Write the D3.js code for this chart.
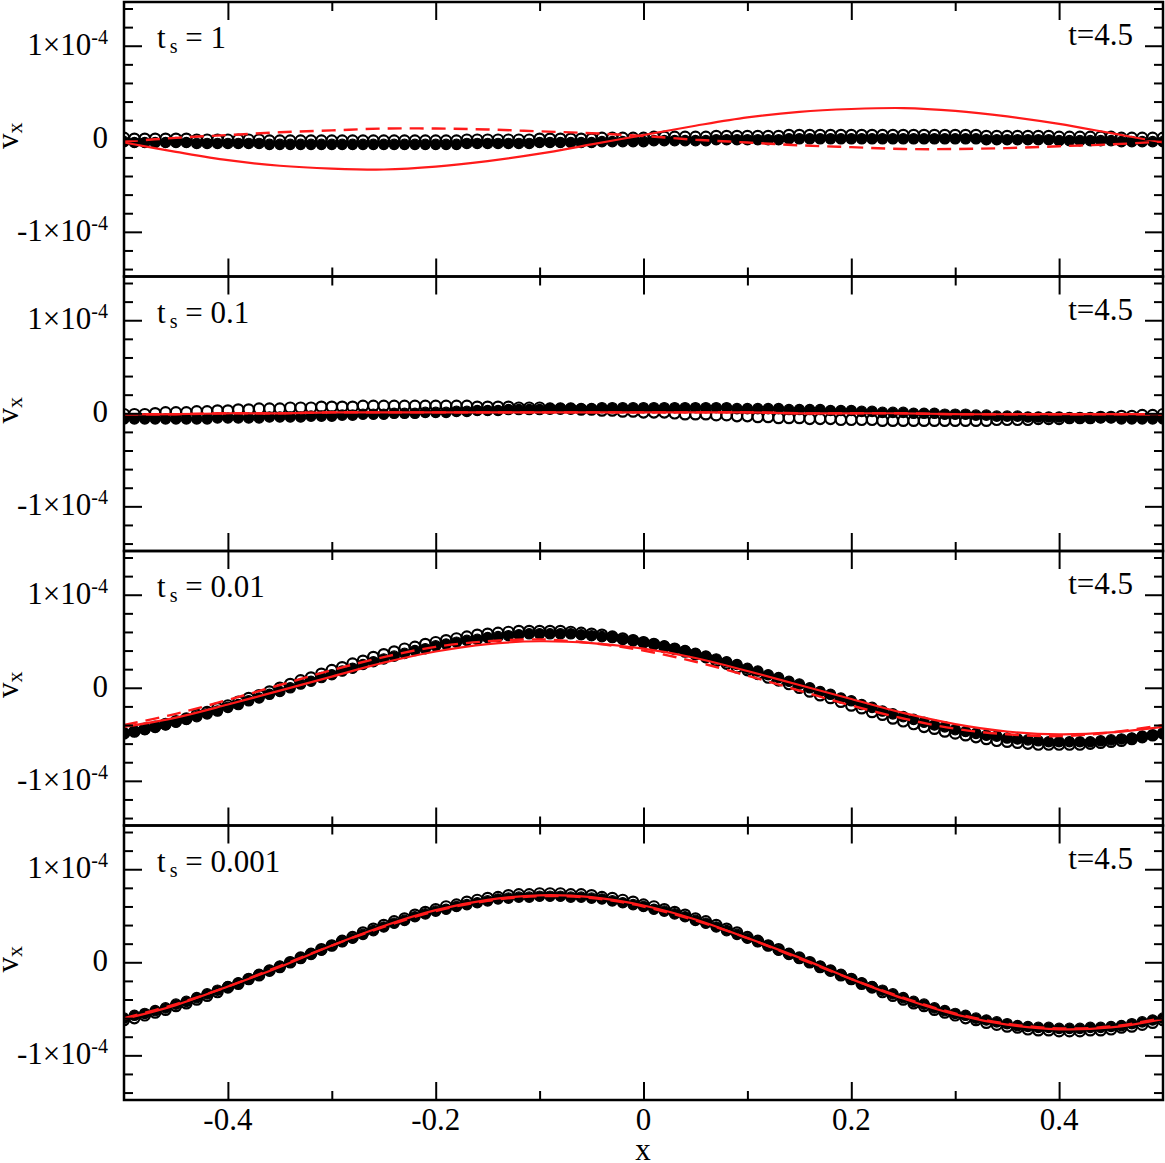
<!DOCTYPE html>
<html>
<head>
<meta charset="utf-8">
<script src="https://cdn.jsdelivr.net/npm/d3@7"></script>
<style>
  body { margin: 0; background: #fff; }
  text { font-family: "Liberation Serif", "DejaVu Serif", serif; fill: #000; }
</style>
</head>
<body>
<div id="chart"></div>
<script>
const w = 1165;
const h = 1163;
const left = 124, right = 1163, top0 = 2, panelH = 274.5;

// all velocities in units of 1e-6
const tsLabels = ["1", "0.1", "0.01", "0.001"];
const timeLabel = "t=4.5";
const xMajor = [-0.4, -0.2, 0, 0.2, 0.4];
const xMinor = [-0.3, -0.1, 0.1, 0.3];
const yMajor = [-100, 0, 100];
const yMinor = [-140, -120, -80, -60, -40, -20, 20, 40, 60, 80, 120, 140];
const yTickNames = ["-1×10", "0", "1×10"];

// particles, x from -0.5 to 0.5 step 0.01 (open = gas, filled = dust)
const gas1 = [1,0,0,0,0,0,0,-1,-1,-1,-1,-1,-1,-1,-2,-2,-2,-2,-2,-2,-2,-2,-2,-2,
  -2,-2,-2,-2,-2,-2,-2,-2,-2,-1,-1,-1,-1,-1,-1,-1,0,0,0,0,0,0,1,1,
  1,1,1,2,2,2,2,2,2,3,3,3,3,3,3,3,4,4,4,4,4,4,4,4,4,4,
  4,4,4,4,4,4,4,4,4,3,3,3,3,3,3,3,2,2,2,2,2,2,1,1,1,
  1,1];
const dust1 = [-3,-4,-4,-4,-4,-4,-4,-5,-5,-5,-5,-5,-5,-5,-6,-6,-6,-6,-6,-6,-6,-6,-6,-6,
  -6,-6,-6,-6,-6,-6,-6,-6,-6,-5,-5,-5,-5,-5,-5,-5,-4,-4,-4,-4,-4,-4,-3,-3,
  -3,-3,-3,-2,-2,-2,-2,-2,-2,-1,-1,-1,-1,-1,-1,-1,0,0,0,0,0,0,0,0,0,0,
  0,0,0,0,0,0,0,0,0,-1,-1,-1,-1,-1,-1,-1,-2,-2,-2,-2,-2,-2,-3,-3,-3,
  -3,-3];
const gas2 = [-1,-1,-1,
  0,1,1,1,2,2,3,3,4,4,5,5,5,6,6,6,7,7,7,7,8,8,8,8,8,8,
  8,8,8,8,8,7,7,7,7,6,6,6,5,5,5,4,4,3,3,2,2,1,1,1,0,
  -1,-1,-1,-2,-2,-3,-3,-4,-4,-5,-5,-5,-6,-6,-6,-7,-7,-7,-7,-8,-8,-8,-8,-8,-8,
  -8,-8,-8,-8,-8,-7,-7,-7,-7,-6,-6,-6,-5,-5,-5,-4,-4,-3,-3,-2,-2,-1];
const dust2 = [-6,-6,-6,
  -6,-6,-6,-6,-6,-6,-5,-5,-5,-5,-5,-4,-4,-4,-4,-3,-3,-3,-2,-2,-1,-1,-1,0,
  0,0,1,1,1,2,2,3,3,3,4,4,4,4,5,5,5,5,5,6,6,6,6,6,6,6,
  6,6,6,6,6,6,5,5,5,5,5,4,4,4,4,3,3,3,2,2,1,1,1,0,0,
  0,-1,-1,-1,-2,-2,-3,-3,-3,-4,-4,-4,-4,-5,-5,-5,-5,-5,-6,-6,-6,-6,-6];
const gas3 = [-49,-47,-44,-42,-39,-36,-33,-29,-26,-22,-19,-15,-11,-8,-4,
  0,4,8,11,15,19,22,26,29,33,36,39,42,44,47,49,51,53,55,57,58,59,60,61,61,61,
  61,61,60,59,58,57,55,53,51,49,47,44,42,39,36,33,29,26,22,19,15,11,8,4,0,
  -4,-8,-11,-15,-19,-22,-26,-29,-33,-36,-39,-42,-44,-47,-49,-51,-53,-55,-57,-58,-59,-60,-61,-61,-61,
  -61,-61,-60,-59,-58,-57,-55,-53,-51,-49];
const dust3 = [-49,-47,-45,-42,-40,-37,-34,-31,-28,-25,-21,-18,-14,-11,-7,-4,
  0,4,7,11,14,18,21,25,28,31,34,37,40,42,45,47,49,51,52,54,55,56,57,58,58,58,
  58,58,57,56,55,54,52,51,49,47,45,42,40,37,34,31,28,25,21,18,14,11,7,4,0,
  -4,-7,-11,-14,-18,-21,-25,-28,-31,-34,-37,-40,-42,-45,-47,-49,-51,-52,-54,-55,-56,-57,-58,-58,-58,
  -58,-58,-57,-56,-55,-54,-52,-51,-49];
const gas4 = [-62,-60,-57,-54,-51,-47,-44,-40,-36,-32,-27,-23,-18,-14,-9,-5,
  0,5,9,14,18,23,27,32,36,40,44,47,51,54,57,60,62,65,67,69,70,72,73,73,74,74,
  74,73,73,72,70,69,67,65,62,60,57,54,51,47,44,40,36,32,27,23,18,14,9,5,0,
  -5,-9,-14,-18,-23,-27,-32,-36,-40,-44,-47,-51,-54,-57,-60,-62,-65,-67,-69,-70,-72,-73,-73,-74,-74,
  -74,-73,-73,-72,-70,-69,-67,-65,-62];
const dust4 = [-60,-57,-55,-52,-49,-45,-42,-38,-34,-30,-26,-22,-18,-13,-9,-4,
  0,4,9,13,18,22,26,30,34,38,42,45,49,52,55,57,60,62,64,66,68,69,70,70,71,71,
  71,70,70,69,68,66,64,62,60,57,55,52,49,45,42,38,34,30,26,22,18,13,9,4,0,
  -4,-9,-13,-18,-22,-26,-30,-34,-38,-42,-45,-49,-52,-55,-57,-60,-62,-64,-66,-68,-69,-70,-70,-71,-71,
  -71,-70,-70,-69,-68,-66,-64,-62,-60];

// analytic curves, x from -0.5 to 0.5 step 0.05
const solid1 = [-4,-14,-23,-29,-32,-33,-30,-24,-16,-6,4,14,23,29,32,33,30,24,16,6,-4];
const dashed1 = [-3,1,4,7,9,11,11,10,8,6,3,-1,-4,-7,-9,-11,-11,-10,-8,-6,-3];
const solid2 = [-1,-1,0,0,1,1,1,1,1,1,1,1,1,0,0,0,-1,-1,-1,-1,-1];
const dashed2 = [-1,-1,0,0,1,1,1,1,1,1,1,1,1,0,0,0,-1,-1,-1,-1,-1];
const solid3 = [-42,-32,-18,-3,12,27,39,47,50,48,42,32,18,3,-12,-27,-39,-47,-50,-48,-42];
const dashed3 = [-40,-28,-13,3,19,33,44,50,52,48,40,28,13,-3,-19,-33,-44,-50,-52,-48,-40];
const solid4 = [-61,-46,-26,-5,18,39,56,67,72,70,61,46,26,5,-18,-39,-56,-67,-72,-70,-61];
const dashed4 = [-60,-45,-26,-4,18,38,55,66,71,69,60,45,26,4,-18,-38,-55,-66,-71,-69,-60];

const panels = [
  {ts: tsLabels[0], gas: gas1, dust: dust1, solid: solid1, dashed: dashed1},
  {ts: tsLabels[1], gas: gas2, dust: dust2, solid: solid2, dashed: dashed2},
  {ts: tsLabels[2], gas: gas3, dust: dust3, solid: solid3, dashed: dashed3},
  {ts: tsLabels[3], gas: gas4, dust: dust4, solid: solid4, dashed: dashed4}
];

const svg = d3.select("#chart").append("svg").attr("width", w).attr("height", h);
const x = d3.scaleLinear().domain([-0.5, 0.5]).range([left, right]);

// spread n values evenly across the x domain
const toPoints = arr => arr.map((v, i) => [-0.5 + i / (arr.length - 1), v]);

panels.forEach((p, k) => {
  const top = top0 + k * panelH;
  const y = d3.scaleLinear().domain([-148, 147]).range([top + panelH, top]);
  const g = svg.append("g");

  g.append("clipPath").attr("id", "clip" + k)
    .append("rect").attr("x", left).attr("y", top).attr("width", right - left).attr("height", panelH);

  const plot = g.append("g").attr("clip-path", "url(#clip" + k + ")");

  //gas particles
  plot.selectAll(".gas").data(toPoints(p.gas)).enter().append("circle")
    .attr("cx", d => x(d[0])).attr("cy", d => y(d[1])).attr("r", 5.2)
    .style("fill", "#fff").style("stroke", "#000").style("stroke-width", 2.2);

  //dust particles
  plot.selectAll(".dust").data(toPoints(p.dust)).enter().append("circle")
    .attr("cx", d => x(d[0])).attr("cy", d => y(d[1])).attr("r", 5.2)
    .style("fill", "#000").style("stroke", "#000").style("stroke-width", 1.2);

  const line = d3.line().x(d => x(d[0])).y(d => y(d[1])).curve(d3.curveCatmullRom);

  plot.append("path").attr("d", line(toPoints(p.dashed)))
    .style("fill", "none").style("stroke", "#ff1a1a").style("stroke-width", 2.4)
    .style("stroke-dasharray", "14,8");
  plot.append("path").attr("d", line(toPoints(p.solid)))
    .style("fill", "none").style("stroke", "#ff1a1a").style("stroke-width", 2.2);

  //inward ticks on all four sides
  const axes = [
    [d3.axisBottom(x), top + panelH, xMajor, xMinor, "x"],
    [d3.axisTop(x), top, xMajor, xMinor, "x"],
    [d3.axisLeft(y), left, yMajor, yMinor, "y"],
    [d3.axisRight(y), right, yMajor, yMinor, "y"]
  ];
  axes.forEach(([ax, pos, major, minor, dir]) => {
    [[major, 18], [minor, 9]].forEach(([vals, len]) => {
      const a = g.append("g")
        .attr("transform", dir === "x" ? "translate(0," + pos + ")" : "translate(" + pos + ",0)")
        .call(ax.tickValues(vals).tickSize(-len).tickFormat(""));
      a.select(".domain").remove();
      a.selectAll("line").style("stroke", "#000").style("stroke-width", 2);
    });
  });

  g.append("rect").attr("x", left).attr("y", top).attr("width", right - left).attr("height", panelH)
    .style("fill", "none").style("stroke", "#000").style("stroke-width", 2.5);

  //y tick labels
  yMajor.forEach((v, i) => {
    const t = g.append("text").attr("x", 108).attr("y", y(v) + 9)
      .attr("text-anchor", "end").style("font-size", "31px");
    t.append("tspan").text(yTickNames[i]);
    if (v !== 0) t.append("tspan").attr("dy", -11).style("font-size", "20px").text("-4");
  });

  //y axis title
  const yt = g.append("text").attr("text-anchor", "middle")
    .attr("transform", "translate(18," + (y(0) - 3) + ") rotate(-90)").style("font-size", "31px");
  yt.append("tspan").text("v");
  yt.append("tspan").attr("dy", 4).style("font-size", "22px").text("x");

  //panel labels
  const lab = g.append("text").attr("x", 157).attr("y", top + 46).style("font-size", "31px");
  lab.append("tspan").text("t");
  lab.append("tspan").attr("dx", 4).attr("dy", 5).style("font-size", "20px").text("s");
  lab.append("tspan").attr("dy", -5).text(" = " + p.ts);

  g.append("text").attr("x", 1133).attr("y", top + 43).attr("text-anchor", "end")
    .style("font-size", "31px").text(timeLabel);
});

//x tick labels on the bottom panel
const bottom = top0 + 4 * panelH;
svg.selectAll(".xlab").data(xMajor).enter().append("text")
  .attr("x", d => x(d)).attr("y", bottom + 30).attr("text-anchor", "middle")
  .style("font-size", "31px").text(d => d === 0 ? "0" : (d < 0 ? "-" : "") + Math.abs(d));

svg.append("text").attr("x", 643).attr("y", 1160).attr("text-anchor", "middle")
  .style("font-size", "31px").text("x");
</script>
</body>
</html>
